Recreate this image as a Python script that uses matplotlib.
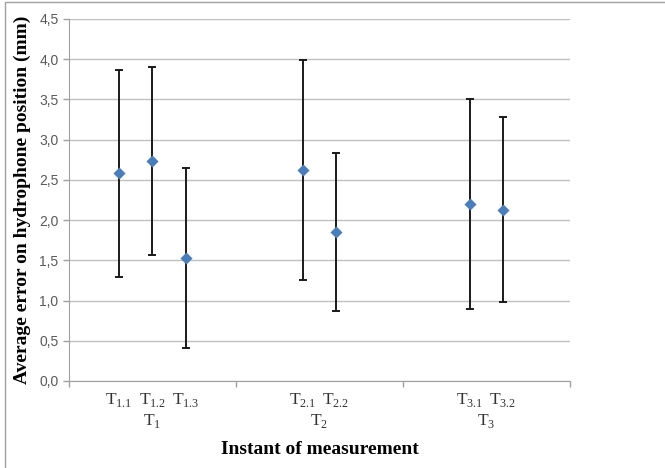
import numpy as np
import matplotlib.pyplot as plt
from matplotlib.patches import Rectangle
from matplotlib.transforms import blended_transform_factory

plt.rcParams['font.family'] = 'Liberation Serif'
plt.rcParams['mathtext.fontset'] = 'custom'
plt.rcParams['mathtext.rm'] = 'Liberation Serif'

# data
groups = ['T$_1$', 'T$_2$', 'T$_3$']
labels = [['T$_{1.1}$', 'T$_{1.2}$', 'T$_{1.3}$'],
          ['T$_{2.1}$', 'T$_{2.2}$'],
          ['T$_{3.1}$', 'T$_{3.2}$']]
means = [[2.58, 2.73, 1.53],
         [2.62, 1.85],
         [2.20, 2.13]]
errs = [[1.29, 1.17, 1.12],
        [1.37, 0.98],
        [1.31, 1.15]]

yticks = np.arange(0, 4.51, 0.5)
spacing = 0.2

fig = plt.figure(figsize=(6.65, 4.68), dpi=100)
ax = fig.add_axes([0.1038, 0.186, 0.753, 0.7735])

# outer chart frame
fig.patches.append(Rectangle((5 / 665, -0.1), 1.2, 1.0957, transform=fig.transFigure,
                             fill=False, edgecolor='#a0a0a0', lw=1.0))

xs, ys, es, xl = [], [], [], []
for i, (m, e, lab) in enumerate(zip(means, errs, labels)):
    n = len(m)
    for k in range(n):
        xs.append(i + (k - (n - 1) / 2) * spacing)
        ys.append(m[k])
        es.append(e[k])
        xl.append(lab[k])

ax.errorbar(xs, ys, yerr=es, fmt='none', ecolor='#1a1a1a', elinewidth=1.4,
            capsize=3, capthick=1.4, zorder=2)
ax.scatter(xs, ys, marker='D', s=38, color='#4a7ebb', zorder=3, linewidths=0)

ax.set_xlim(-0.5, 2.5)
ax.set_ylim(0, 4.5)

ax.set_yticks(yticks)
ax.set_yticklabels([f'{v:.1f}'.replace('.', ',') for v in yticks],
                   fontfamily='Liberation Sans', fontsize=10, color='#595959')
ax.yaxis.grid(True, color='#c0c0c0', lw=1.0)
ax.set_axisbelow(True)

ax.set_xticks([-0.5, 0.5, 1.5, 2.5])
ax.set_xticklabels([])
ax.tick_params(axis='both', which='major', length=4, color='#a0a0a0', width=1)
ax.set_xticks(xs, minor=True)
ax.set_xticklabels(xl, minor=True, fontsize=12.5, color='#333333')
ax.tick_params(axis='x', which='minor', length=0, pad=7)

tr = blended_transform_factory(ax.transData, ax.transAxes)
for i, g in enumerate(groups):
    ax.text(i, -0.11, g, transform=tr, ha='center', va='center',
            fontsize=12.5, color='#333333')

for s in ['top', 'right']:
    ax.spines[s].set_visible(False)
for s in ['left', 'bottom']:
    ax.spines[s].set_color('#a0a0a0')

ax.set_xlabel('Instant of measurement', fontsize=14, fontweight='bold', labelpad=23)
ax.set_ylabel('Average error on hydrophone position (mm)', fontsize=14,
              fontweight='bold', labelpad=6)

fig.savefig('out.png', dpi=100)
